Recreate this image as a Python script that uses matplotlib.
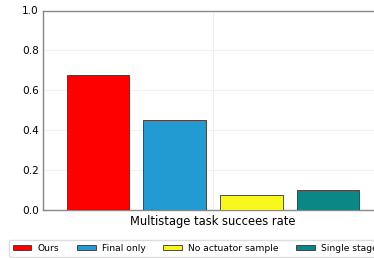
import matplotlib.pyplot as plt
import numpy as np

labels = ['Ours', 'Final only', 'No actuator sample', 'Single stage']
values = [0.675, 0.45, 0.075, 0.10]
colors = ['#ff0000', '#219bd2', '#f7f71c', '#0b8787']
xlabel = 'Multistage task succees rate'

fig = plt.figure(figsize=(3.74, 2.58), dpi=100)
ax = fig.add_axes([43 / 374, 1 - 209.5 / 258, 340 / 374, 199 / 258])

slot = 0.245
width = 0.2
offsets = (np.arange(len(values)) - 1.5) * slot
for off, v, c, lab in zip(offsets, values, colors, labels):
    ax.bar(off, v, width=width, color=c, edgecolor='#333333', linewidth=0.6, label=lab, zorder=3)

ax.set_xlim(-0.544, 0.544)
ax.set_ylim(0, 1.0)
ax.set_yticks([0, 0.2, 0.4, 0.6, 0.8, 1.0])
ax.set_xticks([0])
ax.set_xticklabels([''])
ax.set_xlabel(xlabel, fontsize=8.3, labelpad=1)
ax.tick_params(axis='both', length=0, labelsize=7.6, pad=3)
ax.grid(True, color='#eeeeee', linewidth=0.6, zorder=0)
for s in ax.spines.values():
    s.set_color('#888888')
    s.set_linewidth(1.0)

fig.legend(loc='upper left', bbox_to_anchor=(9 / 374, 1 - 239.5 / 258), ncol=4,
           fontsize=6.6, handlelength=2.0, handleheight=0.58, handletextpad=0.68,
           columnspacing=1.95, frameon=True, framealpha=1, edgecolor='#dddddd',
           borderpad=0.45, borderaxespad=0)

fig.savefig('out.png', dpi=100)
